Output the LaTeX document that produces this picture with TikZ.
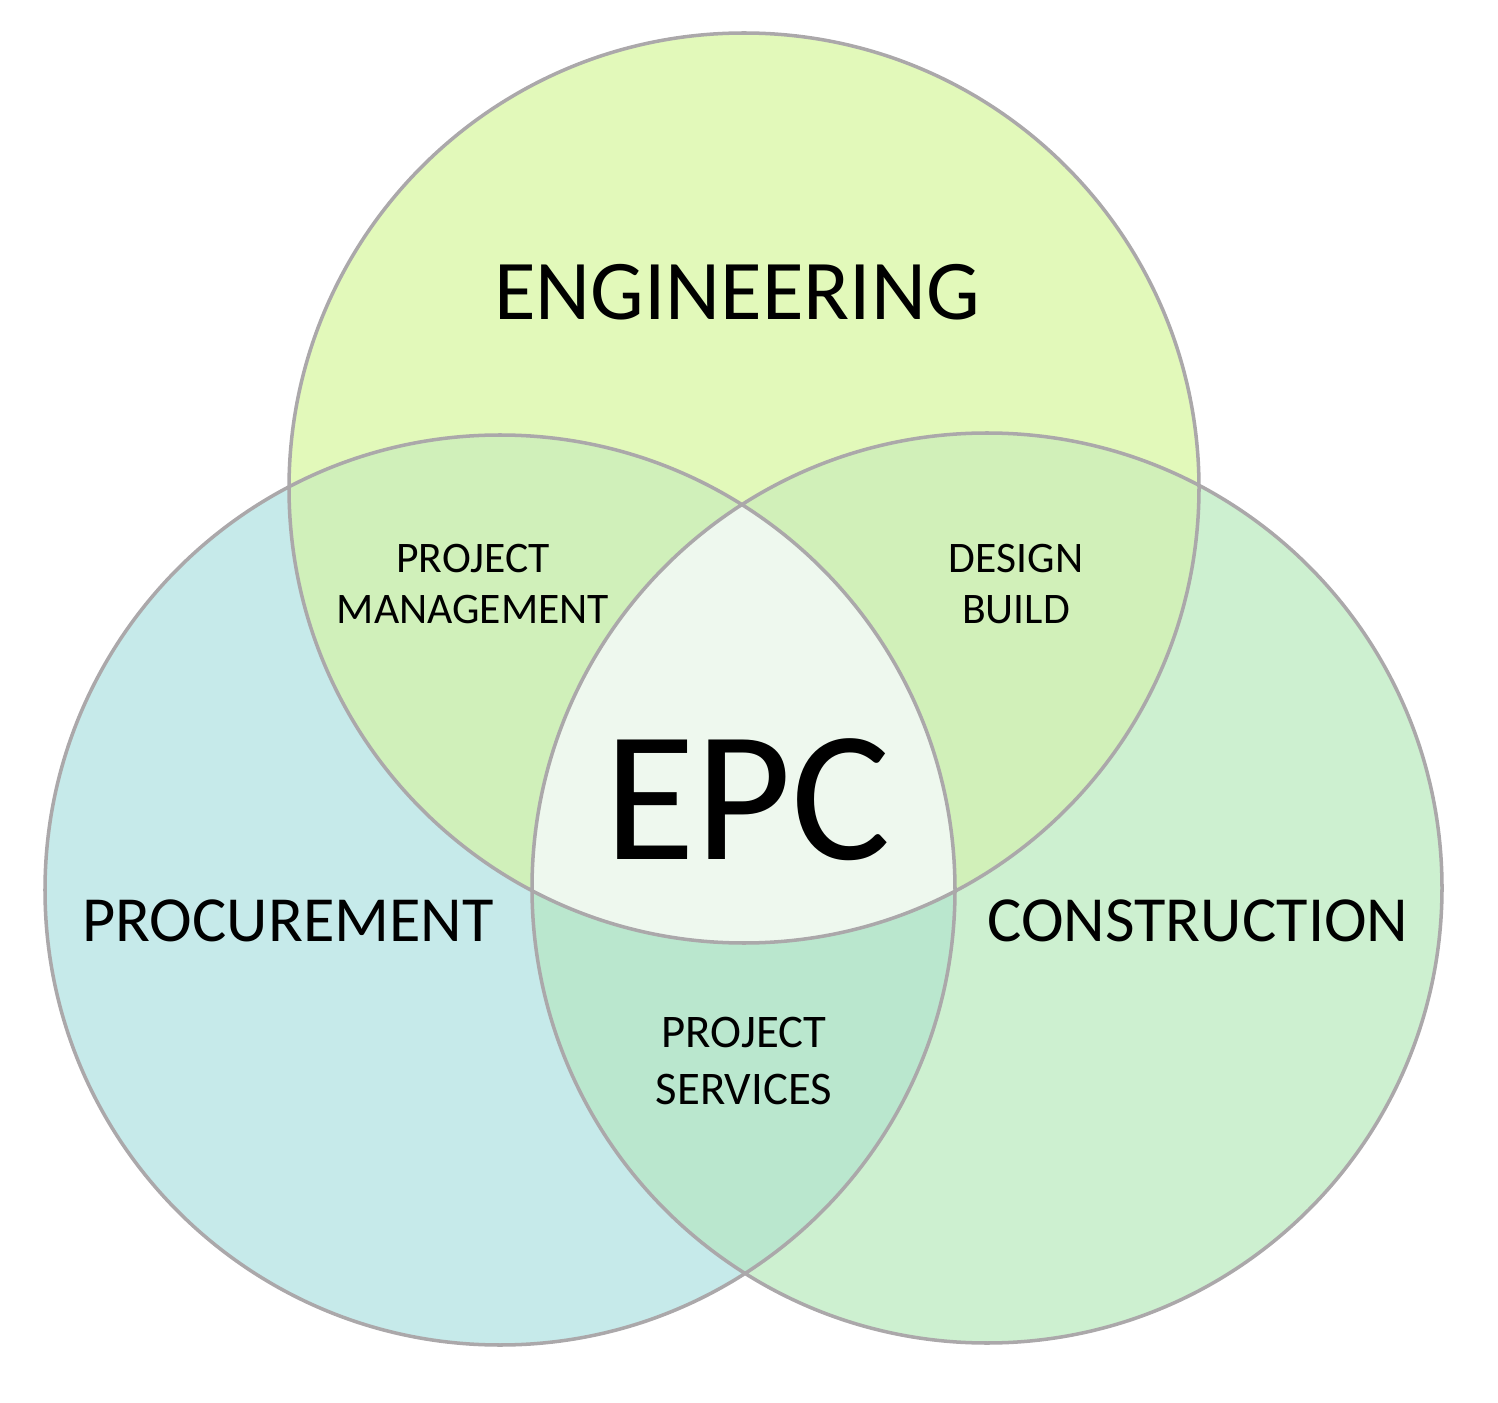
\documentclass[tikz,border=0pt]{standalone}
\usepackage{fontspec}
\setmainfont{Carlito}
\definecolor{engfill}{HTML}{E2F9BA}
\definecolor{profill}{HTML}{C6EAEA}
\definecolor{confill}{HTML}{CDF0D0}
\definecolor{epfill}{HTML}{D0F0BA}
\definecolor{ecfill}{HTML}{D1F0B9}
\definecolor{pcfill}{HTML}{BAE7CE}
\definecolor{epcfill}{HTML}{EEF8EE}
\definecolor{rimgray}{HTML}{ABA8AA}
\begin{document}
\begin{tikzpicture}[rim/.style={draw=rimgray,line width=1pt},
	small/.style={align=center,font=\fontsize{12.4}{14.5}\selectfont}]
	\useasboundingbox (0,0) rectangle (14.98,14.02);
	\coordinate (E) at (7.44,9.14);
	\coordinate (P) at (5.00,5.12);
	\coordinate (C) at (9.87,5.14);
	\def\rad{4.55}
	\fill[engfill] (E) circle (\rad);
	\fill[profill] (P) circle (\rad);
	\fill[confill] (C) circle (\rad);
	\begin{scope}
		\clip (E) circle (\rad);
		\fill[epfill] (P) circle (\rad);
		\fill[ecfill] (C) circle (\rad);
	\end{scope}
	\begin{scope}
		\clip (P) circle (\rad);
		\fill[pcfill] (C) circle (\rad);
		\clip (C) circle (\rad);
		\fill[epcfill] (E) circle (\rad);
	\end{scope}
	\draw[rim] (E) circle (\rad) (P) circle (\rad) (C) circle (\rad);
	\node (eng) at (7.37,11.10) {\fontsize{24.2}{28}\selectfont ENGINEERING};
	\node (pro) at (2.88,4.81) {\fontsize{18.3}{22}\selectfont PROCUREMENT};
	\node (con) at (11.98,4.81) {\fontsize{18.3}{22}\selectfont CONSTRUCTION};
	\node (epc) at (7.48,6.02) {\fontsize{53}{60}\selectfont EPC};
	\node[small] (pm) at (4.73,8.18) {PROJECT\\MANAGEMENT};
	\node[small] (db) at (10.16,8.18) {DESIGN\\BUILD};
	\node[small,font=\fontsize{13.3}{16.2}\selectfont] (ps) at (7.44,3.41) {PROJECT\\SERVICES};
\end{tikzpicture}
\end{document}
